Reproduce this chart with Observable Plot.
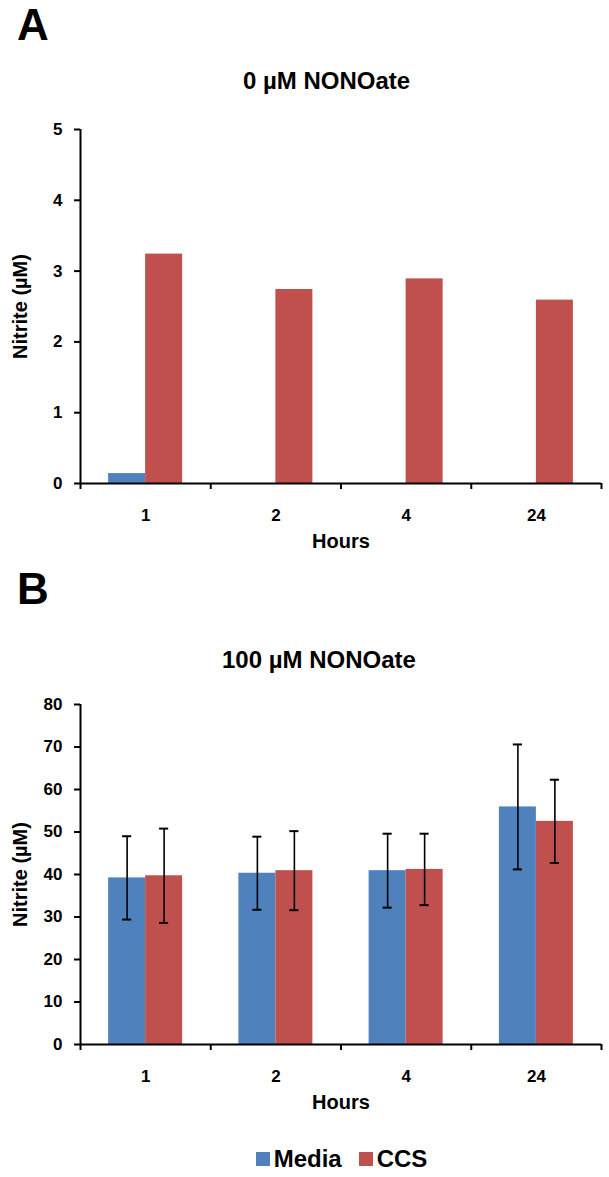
<!DOCTYPE html>
<html>
<head>
<meta charset="utf-8">
<script src="https://cdn.jsdelivr.net/npm/d3@7"></script>
<script src="https://cdn.jsdelivr.net/npm/@observablehq/plot@0.6"></script>
<style>
  body { margin: 0; background: #fff; font-family: "Liberation Sans", Arial, sans-serif; }
  #wrap { position: relative; width: 609px; height: 1177px; overflow: hidden; background: #fff; }
  .abs { position: absolute; }
  .letter { font-size: 44px; font-weight: bold; line-height: normal; left: 17px; color: #000; }
  .title { font-size: 24px; font-weight: bold; line-height: 24px; color: #000; white-space: nowrap; }
  .lg-swatches-wrap { justify-content: center; font-family: "Liberation Sans", Arial, sans-serif !important; font-size: 24px !important; font-weight: bold; color: #000; }
  .lg-swatch { margin-right: 17px !important; }
  .lg-swatch:last-child { margin-right: 0 !important; }
  .lg-swatch > svg { margin-right: 4px !important; }
</style>
</head>
<body>
<div id="wrap">
  <div class="abs letter" style="top:0px;">A</div>
  <div class="abs title" id="titleA" style="top:69px;left:243px;"></div>
  <div class="abs" id="plotA" style="top:100px;left:0;"></div>
  <div class="abs letter" style="top:564px;">B</div>
  <div class="abs title" id="titleB" style="top:648px;left:222px;"></div>
  <div class="abs" id="plotB" style="top:680px;left:0;"></div>
  <div class="abs" id="legend" style="top:1142px;left:74px;width:535px;"></div>
</div>
<script>
// ---- data ----
const hours = ["1", "2", "4", "24"];
const series = ["Media", "CCS"];
const colors = ["#4F81BD", "#C0504D"];
const titles = ["0 µM NONOate", "100 µM NONOate"];
const yLabel = "Nitrite (µM)";
const xLabel = "Hours";

const mediaA = [0.14, 0, 0, 0];
const ccsA = [3.24, 2.74, 2.89, 2.59];
const yTicksA = [0, 1, 2, 3, 4, 5];

const mediaB = [39.2, 40.3, 40.9, 55.9];
const mediaBErr = [9.8, 8.6, 8.7, 14.7];
const ccsB = [39.7, 40.9, 41.2, 52.5];
const ccsBErr = [11.1, 9.3, 8.4, 9.8];
const yTicksB = [0, 10, 20, 30, 40, 50, 60, 70, 80];

// ---- layout constants (style) ----
const BAR = 0.284;   // bar width, as a fraction of one hour slot
const CAP = 0.035;   // half-width of error bar caps, in slot units
const FONT = '"Liberation Sans", Arial, sans-serif';

function buildRows(media, ccs, mediaErr, ccsErr) {
  const out = [];
  hours.forEach((h, i) => {
    out.push({i, hour: h, series: series[0], value: media[i], err: mediaErr ? mediaErr[i] : null});
    out.push({i, hour: h, series: series[1], value: ccs[i], err: ccsErr ? ccsErr[i] : null});
  });
  return out;
}
const left = d => d.series === series[0] ? d.i + 0.5 - BAR : d.i + 0.5;
const right = d => left(d) + BAR;
const mid = d => left(d) + BAR / 2;

function chart(rows, yTicks, height, marginTop) {
  const marks = [
    Plot.rect(rows, {x1: left, x2: right, y1: () => 0, y2: "value", fill: "series"})
  ];
  const ed = rows.filter(d => d.err != null);
  if (ed.length) {
    marks.push(Plot.ruleX(ed, {x: mid, y1: d => d.value - d.err, y2: d => d.value + d.err, stroke: "#000", strokeWidth: 1.6}));
    marks.push(Plot.ruleY(ed, {y: d => d.value + d.err, x1: d => mid(d) - CAP, x2: d => mid(d) + CAP, stroke: "#000", strokeWidth: 2}));
    marks.push(Plot.ruleY(ed, {y: d => d.value - d.err, x1: d => mid(d) - CAP, x2: d => mid(d) + CAP, stroke: "#000", strokeWidth: 2}));
  }
  marks.push(
    Plot.ruleX([0], {stroke: "#000", strokeWidth: 2}),
    Plot.ruleY([0], {stroke: "#000", strokeWidth: 2}),
    Plot.axisY({ticks: yTicks, tickSize: 6, tickPadding: 12, strokeWidth: 2, tickFormat: d => String(d), label: null, fontSize: 17, fontWeight: "bold", fill: "#000"}),
    Plot.axisY({ticks: [], tickSize: 0, label: yLabel, labelAnchor: "center", labelArrow: "none", labelOffset: 68, fontSize: 20, fontWeight: "bold", fill: "#000"}),
    Plot.axisX({ticks: d3.range(hours.length + 1), tickSize: 6, strokeWidth: 2, tickFormat: () => "", label: null}),
    Plot.axisX({ticks: hours.map((h, i) => i + 0.5), tickSize: 0, tickPadding: 25, tickFormat: v => hours[Math.floor(v)], label: null, fontSize: 17, fontWeight: "bold", fill: "#000"}),
    Plot.axisX({ticks: [], tickSize: 0, label: xLabel, labelAnchor: "center", labelArrow: "none", labelOffset: 64, fontSize: 20, fontWeight: "bold", fill: "#000"})
  );
  return Plot.plot({
    width: 609, height, marginTop, marginBottom: 70, marginLeft: 80, marginRight: 8,
    x: {domain: [0, hours.length]},
    y: {domain: [0, yTicks[yTicks.length - 1]]},
    color: {domain: series, range: colors},
    style: {fontFamily: FONT, fontWeight: "bold", color: "#000", background: "transparent"},
    marks
  });
}

document.getElementById("titleA").textContent = titles[0];
document.getElementById("titleB").textContent = titles[1];
document.getElementById("plotA").append(chart(buildRows(mediaA, ccsA), yTicksA, 453, 29));
document.getElementById("plotB").append(chart(buildRows(mediaB, ccsB, mediaBErr, ccsBErr), yTicksB, 434, 24));
document.getElementById("legend").append(Plot.legend({
  color: {type: "ordinal", domain: series, range: colors},
  swatchSize: 14,
  className: "lg",
  style: {fontFamily: FONT, fontSize: "24px", fontWeight: "bold", color: "#000"}
}));
</script>
</body>
</html>
